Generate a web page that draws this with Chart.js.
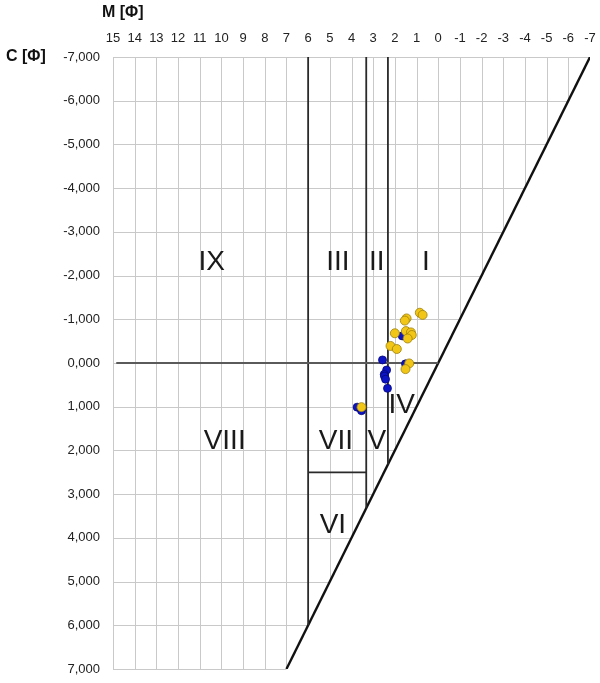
<!DOCTYPE html>
<html>
<head>
<meta charset="utf-8">
<title>C-M diagram</title>
<script src="https://cdn.jsdelivr.net/npm/chart.js@4.4.0/dist/chart.umd.min.js"></script>
<style>
  html, body { margin: 0; padding: 0; background: #fff; }
  #wrap { width: 600px; height: 683px; }
</style>
</head>
<body>
<div id="wrap"><canvas id="cmChart"></canvas></div>
<script>
// Axis ticks
const mTicks = [15, 14, 13, 12, 11, 10, 9, 8, 7, 6, 5, 4, 3, 2, 1, 0, -1, -2, -3, -4, -5, -6, -7];
const cTicks = [-7, -6, -5, -4, -3, -2, -1, 0, 1, 2, 3, 4, 5, 6, 7];
const cTickLabels = ["-7,000", "-6,000", "-5,000", "-4,000", "-3,000", "-2,000", "-1,000", "0,000",
                     "1,000", "2,000", "3,000", "4,000", "5,000", "6,000", "7,000"];

// Samples (yellow)
const yellowM = [0.85, 0.72, 1.46, 1.54, 2.00, 1.49, 1.26, 1.22, 1.41, 2.20, 1.91, 1.34, 1.51, 3.54];
const yellowC = [-1.15, -1.10, -1.02, -0.97, -0.68, -0.73, -0.70, -0.64, -0.56, -0.39, -0.32, 0.01, 0.14, 1.01];

// Samples (blue)
const blueM = [1.66, 2.57, 1.51, 2.38, 2.49, 2.48, 2.43, 2.34, 3.74, 3.54];
const blueC = [-0.62, -0.07, 0.02, 0.16, 0.26, 0.30, 0.37, 0.58, 1.01, 1.09];

// Field boundaries (M, C pairs)
const diagonalLine = [[-7, -7], [7, 7]];
const zeroLine = [[14.85, 0], [0, 0]];
const border6 = [[6, -7], [6, 6]];
const border332 = [[3.32, -7], [3.32, 3.32]];
const border232 = [[2.32, -7], [2.32, 2.32]];
const border25 = [[6, 2.5], [3.32, 2.5]];

// Field names and where they are written
const fieldNames = ["IX", "III", "II", "I", "IV", "VIII", "VII", "V", "VI"];
const fieldM = [10.45, 4.63, 2.83, 0.57, 1.68, 9.85, 4.72, 2.83, 4.86];
const fieldC = [-2.30, -2.30, -2.30, -2.30, 0.96, 1.79, 1.79, 1.79, 3.71];

const FONT = "'Liberation Sans', Arial, sans-serif";

function toPoints(m, c) {
    return m.map((v, i) => ({ x: v, y: c[i] }));
}

function pairsToPoints(pairs) {
    return pairs.map(p => ({ x: p[0], y: p[1] }));
}

function lineSet(pairs, color, width) {
    return {
        data: pairsToPoints(pairs),
        showLine: true,
        borderColor: color,
        borderWidth: width,
        pointRadius: 0,
        fill: false,
        order: 3
    };
}

// Grid only on the left of the M = C line, plus the titles and field names
const cmPlugin = {
    id: "cmPlugin",
    beforeDatasetsDraw(chart) {
        const ctx = chart.ctx;
        const xs = chart.scales.x;
        const ys = chart.scales.y;
        ctx.save();
        ctx.strokeStyle = "#c9c9c9";
        ctx.lineWidth = 1;
        ctx.beginPath();
        mTicks.forEach(m => {
            const end = Math.min(m, 7);
            if (end <= -7) return;
            const x = Math.round(xs.getPixelForValue(m)) + 0.5;
            ctx.moveTo(x, ys.getPixelForValue(-7));
            ctx.lineTo(x, ys.getPixelForValue(end));
        });
        cTicks.forEach(c => {
            const y = Math.round(ys.getPixelForValue(c)) + 0.5;
            ctx.moveTo(xs.getPixelForValue(15), y);
            ctx.lineTo(xs.getPixelForValue(c), y);
        });
        ctx.stroke();
        ctx.restore();
    },
    afterDatasetsDraw(chart) {
        const ctx = chart.ctx;
        const xs = chart.scales.x;
        const ys = chart.scales.y;
        ctx.save();
        ctx.fillStyle = "#1a1a1a";
        ctx.textAlign = "center";
        ctx.textBaseline = "middle";
        ctx.font = "28px " + FONT;
        fieldNames.forEach((name, i) => {
            ctx.fillText(name, xs.getPixelForValue(fieldM[i]), ys.getPixelForValue(fieldC[i]));
        });

        ctx.fillStyle = "#111";
        ctx.textAlign = "left";
        ctx.font = "bold 16px " + FONT;
        ctx.fillText("M [\u03A6]", 102, 13);
        ctx.fillText("C [\u03A6]", 6, 57);
        ctx.restore();
    }
};

const ctx = document.getElementById("cmChart").getContext("2d");
const cmChart = new Chart(ctx, {
    type: "scatter",
    data: {
        datasets: [
            {
                label: "yellow",
                data: toPoints(yellowM, yellowC),
                backgroundColor: "#f2c617",
                borderColor: "#9c800c",
                borderWidth: 0.8,
                pointRadius: 4.5,
                order: 1
            },
            {
                label: "blue",
                data: toPoints(blueM, blueC),
                backgroundColor: "#0c14c4",
                borderColor: "#06087a",
                borderWidth: 0.8,
                pointRadius: 4,
                order: 2
            },
            lineSet(zeroLine, "#5a5a5a", 2),
            lineSet(border6, "#2a2a2a", 1.8),
            lineSet(border332, "#2a2a2a", 1.8),
            lineSet(border232, "#2a2a2a", 1.8),
            lineSet(border25, "#2a2a2a", 1.8),
            lineSet(diagonalLine, "#111", 2.4)
        ]
    },
    options: {
        responsive: true,
        maintainAspectRatio: false,
        animation: false,
        layout: { padding: { left: 0, top: 0, right: 10, bottom: 14 } },
        plugins: {
            legend: { display: false },
            tooltip: { enabled: false }
        },
        scales: {
            x: {
                type: "linear",
                position: "top",
                reverse: true,
                min: -7,
                max: 15,
                grid: { display: false, drawTicks: false },
                border: { display: false },
                afterBuildTicks: scale => { scale.ticks = mTicks.map(v => ({ value: v })); },
                afterFit: scale => {
                    scale.height = 57;
                    scale.paddingLeft = 0;
                    scale.paddingRight = 0;
                },
                ticks: {
                    autoSkip: false,
                    maxRotation: 0,
                    padding: 11,
                    color: "#222",
                    font: { family: FONT, size: 13 }
                }
            },
            y: {
                type: "linear",
                reverse: true,
                min: -7,
                max: 7,
                grid: { display: false, drawTicks: false },
                border: { display: false },
                afterBuildTicks: scale => { scale.ticks = cTicks.map(v => ({ value: v })); },
                afterFit: scale => {
                    scale.width = 113;
                    scale.paddingTop = 0;
                    scale.paddingBottom = 0;
                },
                ticks: {
                    autoSkip: false,
                    padding: 13,
                    color: "#222",
                    font: { family: FONT, size: 13 },
                    callback: (value) => {
                        const i = cTicks.indexOf(value);
                        return i >= 0 ? cTickLabels[i] : "";
                    }
                }
            }
        }
    },
    plugins: [cmPlugin]
});
</script>
</body>
</html>
